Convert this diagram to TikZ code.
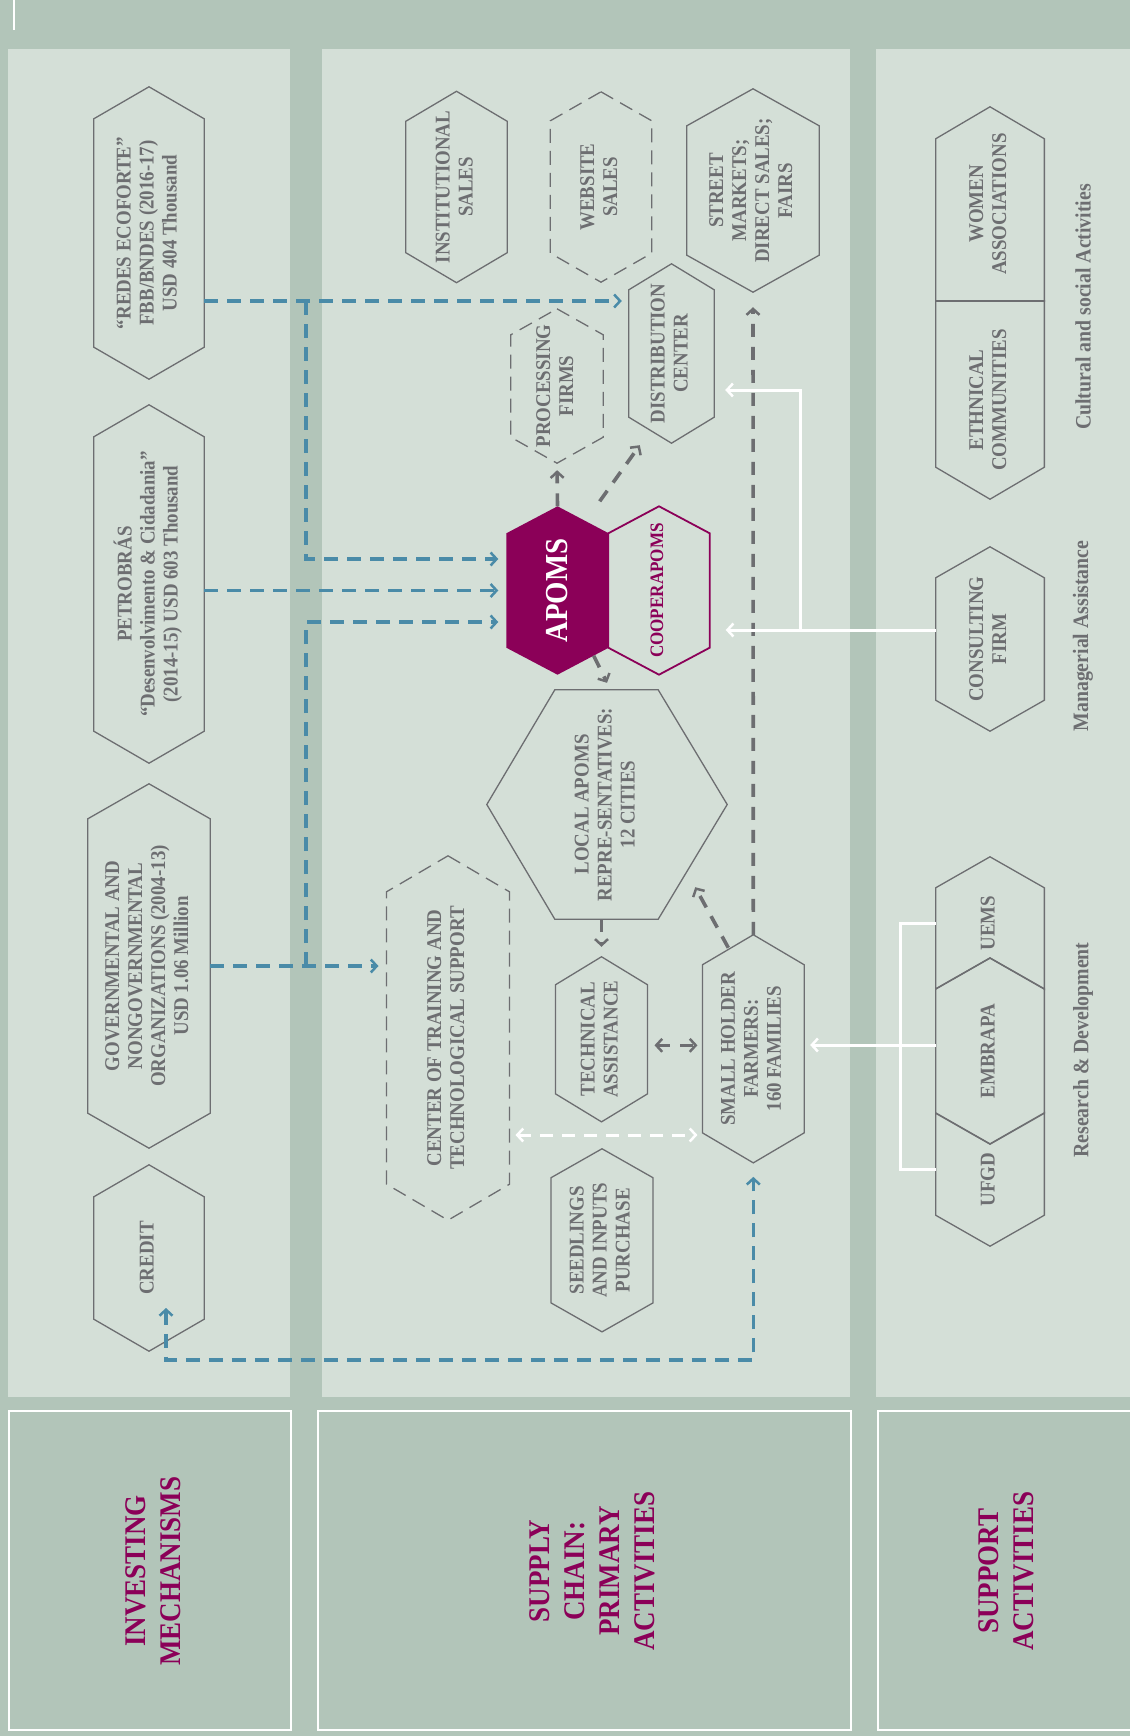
\documentclass[tikz,border=0pt]{standalone}
\usepackage{fontspec}
\setmainfont{Liberation Serif}[FakeStretch=0.9]
\usepackage{graphicx}
\usepackage{tikz}
\usetikzlibrary{arrows.meta,positioning,calc}
\definecolor{bgsage}{RGB}{178,197,185}
\definecolor{panelsage}{RGB}{212,223,215}
\definecolor{inkgrey}{RGB}{109,110,113}
\definecolor{apomsred}{RGB}{139,0,88}
\definecolor{fundblue}{RGB}{74,139,168}

\newcommand{\vtxt}[1]{\rotatebox{90}{\begin{tabular}{@{}c@{}}#1\end{tabular}}}
% hexagon with its points at top and bottom
\newcommand{\hexpath}[2]{(#1.north) -- ([yshift=-#2]#1.north east) -- ([yshift=#2]#1.south east) -- (#1.south) -- ([yshift=#2]#1.south west) -- ([yshift=-#2]#1.north west) -- cycle}

\begin{document}
\begin{tikzpicture}[x=1pt,y=-1pt,
    hexnode/.style={inner sep=0pt, text=inkgrey, font=\fontsize{21}{23}\selectfont\bfseries},
    hexline/.style={draw=inkgrey, line width=1.3pt},
    hexdash/.style={hexline, dash pattern=on 14pt off 8pt},
    flowtip/.tip={Straight Barb[length=6pt,width=13pt,line width=2.5pt]},
    fundflow/.style={draw=fundblue, line width=3.4pt, dash pattern=on 14pt off 9pt},
    goodsflow/.style={draw=inkgrey, line width=3.6pt, dash pattern=on 13pt off 10pt},
    supportline/.style={draw=white, line width=3pt},
    titletext/.style={inner sep=0pt, text=apomsred, font=\fontsize{30}{35}\selectfont\bfseries},
    sidelabel/.style={inner sep=0pt, text=inkgrey, font=\fontsize{22}{25}\selectfont\bfseries}]
  \useasboundingbox (0,0) rectangle (1130,1736);
  % panels
  \fill[bgsage] (0,0) rectangle (1130,1736);
  \fill[panelsage] (8,49) rectangle (290,1397);
  \fill[panelsage] (322,49) rectangle (850,1397);
  \fill[panelsage] (876,49) rectangle (1130,1397);
  \draw[white, line width=2pt] (14,0) -- (14,30);
  \draw[white, line width=2.2pt] (9,1411) rectangle (291,1730);
  \draw[white, line width=2.2pt] (318,1411) rectangle (851,1730);
  \draw[white, line width=2.2pt] (1140,1411) -- (878,1411) -- (878,1730) -- (1140,1730);
  \node[titletext] (investlbl) at (155.5,1571) {\vtxt{INVESTING\\MECHANISMS}};
  \node[titletext] (supplylbl) at (595,1571) {\vtxt{SUPPLY\\CHAIN:\\PRIMARY\\ACTIVITIES}};
  \node[titletext] (supportlbl) at (1008.5,1571) {\vtxt{SUPPORT\\ACTIVITIES}};

  % investing mechanisms
  \node[hexnode, minimum width=110pt, minimum height=292pt] (redes) at (149,233) {\vtxt{“REDES ECOFORTE”\\FBB/BNDES (2016-17)\\USD 404 Thousand}};
  \node[hexnode, minimum width=110pt, minimum height=358pt] (petro) at (149,584) {\vtxt{PETROBRÁS\\“Desenvolvimento \& Cidadania”\\(2014-15) USD 603 Thousand}};
  \node[hexnode, minimum width=122pt, minimum height=364pt] (govorg) at (149,966) {\vtxt{GOVERNMENTAL AND\\NONGOVERNMENTAL\\ORGANIZATIONS (2004-13)\\USD 1.06 Million}};
  \node[hexnode, minimum width=110pt, minimum height=186pt] (credit) at (149,1258) {\vtxt{CREDIT}};
  \draw[hexline] \hexpath{redes}{32pt};
  \draw[hexline] \hexpath{petro}{32pt};
  \draw[hexline] \hexpath{govorg}{35pt};
  \draw[hexline] \hexpath{credit}{32pt};

  % supply chain
  \node[hexnode, minimum width=101pt, minimum height=191pt] (inst) at (456.5,187) {\vtxt{INSTITUTIONAL\\SALES}};
  \node[hexnode, minimum width=101pt, minimum height=190pt] (web) at (601,187) {\vtxt{WEBSITE\\SALES}};
  \node[hexnode, minimum width=132pt, minimum height=203pt] (street) at (753,190.5) {\vtxt{STREET\\MARKETS;\\DIRECT SALES;\\FAIRS}};
  \node[hexnode, minimum width=92pt, minimum height=154pt] (proc) at (557,386) {\vtxt{PROCESSING\\FIRMS}};
  \node[hexnode, minimum width=85pt, minimum height=179pt] (dist) at (671.5,353.5) {\vtxt{DISTRIBUTION\\CENTER}};
  \node[inner sep=0pt, minimum width=102pt, minimum height=168pt] (apoms) at (557.5,590.5) {};
  \node[hexnode, text=apomsred, font=\fontsize{19}{21}\selectfont\bfseries, minimum width=101pt, minimum height=168pt] (coop) at (659,590.5) {\vtxt{COOPERAPOMS}};
  \node[hexnode, minimum width=240pt, minimum height=229pt] (local) at (607,804.5) {\vtxt{LOCAL APOMS\\REPRE-SENTATIVES:\\12 CITIES}};
  \node[hexnode, minimum width=122.6pt, minimum height=364pt] (ctrain) at (448,1038) {\vtxt{CENTER OF TRAINING AND\\TECHNOLOGICAL SUPPORT}};
  \node[hexnode, minimum width=91.6pt, minimum height=164.7pt] (tech) at (601.5,1039.3) {\vtxt{TECHNICAL\\ASSISTANCE}};
  \node[hexnode, minimum width=101.3pt, minimum height=227.7pt] (farm) at (753.3,1048.8) {\vtxt{SMALL HOLDER\\FARMERS:\\160 FAMILIES}};
  \node[hexnode, minimum width=101.7pt, minimum height=182.7pt] (seed) at (602,1240.3) {\vtxt{SEEDLINGS\\AND INPUTS\\PURCHASE}};
  \draw[hexline] \hexpath{inst}{30pt};
  \draw[hexdash] \hexpath{web}{29pt};
  \draw[hexline] \hexpath{street}{37pt};
  \draw[hexdash] \hexpath{proc}{26pt};
  \draw[hexline] \hexpath{dist}{26pt};
  \fill[apomsred] \hexpath{apoms}{27pt};
  \node[inner sep=0pt, text=white, font=\fontsize{32}{34}\selectfont\bfseries] (apomslbl) at (apoms.center) {\rotatebox{90}{APOMS}};
  \draw[draw=apomsred, line width=1.8pt] \hexpath{coop}{27pt};
  \draw[hexline] ([xshift=68pt]local.north west) -- ([xshift=-69pt]local.north east) -- (local.east) -- ([xshift=-69pt]local.south east) -- ([xshift=68pt]local.south west) -- (local.west) -- cycle;
  \draw[hexdash] \hexpath{ctrain}{36pt};
  \draw[hexline] \hexpath{tech}{28pt};
  \draw[hexline] \hexpath{farm}{30pt};
  \draw[hexline] \hexpath{seed}{29pt};

  % support activities
  \node[hexnode, minimum width=108.3pt, minimum height=194pt] (women) at (990,204) {\vtxt{WOMEN\\ASSOCIATIONS}};
  \node[hexnode, minimum width=108.3pt, minimum height=198pt] (ethnic) at (990,400) {\vtxt{ETHNICAL\\COMMUNITIES}};
  \node[hexnode, minimum width=108.3pt, minimum height=184pt] (consult) at (990,639) {\vtxt{CONSULTING\\FIRM}};
  \node[hexnode, minimum width=108.3pt, minimum height=132pt] (uems) at (990,923) {\vtxt{UEMS}};
  \node[hexnode, minimum width=108.3pt, minimum height=186pt] (embrapa) at (990,1051) {\vtxt{EMBRAPA}};
  \node[hexnode, minimum width=108.3pt, minimum height=133pt] (ufgd) at (990,1179.5) {\vtxt{UFGD}};
  \draw[hexline] (women.south west) -- ([yshift=-32pt]women.north west) -- (women.north) -- ([yshift=-32pt]women.north east) -- (women.south east) -- cycle;
  \draw[hexline] (ethnic.north west) -- (ethnic.north east) -- ([yshift=32pt]ethnic.south east) -- (ethnic.south) -- ([yshift=32pt]ethnic.south west) -- cycle;
  \draw[hexline] \hexpath{consult}{31pt};
  \draw[hexline] (uems.north) -- ([yshift=-31pt]uems.north east) -- (uems.south east) -- ([yshift=31pt]uems.south) -- (uems.south west) -- ([yshift=-31pt]uems.north west) -- cycle;
  \draw[hexline] \hexpath{embrapa}{31pt};
  \draw[hexline] (ufgd.north west) -- ([yshift=-31pt]ufgd.north) -- (ufgd.north east) -- ([yshift=31pt]ufgd.south east) -- (ufgd.south) -- ([yshift=31pt]ufgd.south west) -- cycle;
  \node[sidelabel] (culturelbl) at (1083,307) {\rotatebox{90}{Cultural and social Activities}};
  \node[sidelabel] (managelbl) at (1083,636) {\rotatebox{90}{Managerial Assistance}};
  \node[sidelabel] (researchlbl) at (1083,1050) {\rotatebox{90}{Research \& Development}};

  % funding flows
  \coordinate (busx) at (306,0);
  \coordinate (redesout) at ([yshift=-68pt]redes.east);
  \coordinate (apomsin1) at ([yshift=31.5pt]apoms.west);
  \coordinate (apomsin3) at ([yshift=-31.5pt]apoms.west);
  \coordinate (creditin) at ([xshift=17pt,yshift=-50pt]credit.center);
  \coordinate (creditline) at (0,1360);
  \draw[fundflow, -flowtip, shorten >=7pt] (redesout) -- (redesout -| dist.west);
  \draw[fundflow, -flowtip, shorten >=8pt] (redesout -| busx) -- (apomsin1 -| busx) -- (apomsin1);
  \draw[fundflow, -flowtip, shorten >=8pt] (petro.east |- apoms.west) -- (apoms.west);
  \draw[fundflow, -flowtip, shorten >=8pt] (govorg.east) -- (govorg.east -| ctrain.west);
  \draw[fundflow, -flowtip, shorten >=8pt] (govorg.east -| busx) -- (apomsin3 -| busx) -- (apomsin3);
  \draw[fundflow, flowtip-flowtip, shorten >=14pt] (creditin) -- (creditin |- creditline) -- (farm.south |- creditline) -- (farm.south);

  % goods flows
  \draw[goodsflow, -flowtip, shorten >=7pt] (apoms.north) -- (proc.south);
  \draw[goodsflow, -flowtip] ([xshift=-9pt,yshift=5pt]apoms.north east) -- ([xshift=11pt,yshift=-2pt]dist.south west);
  \draw[goodsflow, -flowtip] ([xshift=-15pt,yshift=19pt]apoms.south east) -- ([yshift=7pt]local.north);
  \draw[goodsflow, -flowtip, shorten >=10pt] (tech.north |- local.south) -- (tech.north);
  \coordinate (techfarm) at ([yshift=-6pt]tech.east);
  \draw[goodsflow, flowtip-flowtip, shorten <=7pt, shorten >=5pt] (techfarm) -- (techfarm -| farm.west);
  \draw[goodsflow, -flowtip] ([xshift=-25pt,yshift=-13pt]farm.north) -- ([xshift=-32pt,yshift=32pt]local.south east);
  \draw[goodsflow, -flowtip, shorten >=15pt] (farm.north) -- (street.south);

  % support links
  \coordinate (consultout) at ([yshift=9pt]consult.west);
  \coordinate (branchx) at (800,0);
  \coordinate (distin) at ([yshift=-36.5pt]dist.east);
  \coordinate (embrapaout) at ([yshift=6pt]embrapa.west);
  \coordinate (trainfarm) at ([yshift=-97pt]ctrain.east);
  \draw[supportline, -flowtip, shorten >=16pt] (consultout) -- (consultout -| coop.east);
  \draw[supportline, -flowtip, shorten >=11pt] (consultout -| branchx) -- (distin -| branchx) -- (distin);
  \draw[supportline] (uems.west) -- ++(-35,0) |- ([yshift=10pt]ufgd.west);
  \draw[supportline, -flowtip, shorten >=6pt] (embrapaout) -- (embrapaout -| farm.east);
  \draw[supportline, dash pattern=on 13pt off 9pt, flowtip-flowtip, shorten <=6pt, shorten >=5pt] (trainfarm) -- (trainfarm -| farm.west);
\end{tikzpicture}
\end{document}
